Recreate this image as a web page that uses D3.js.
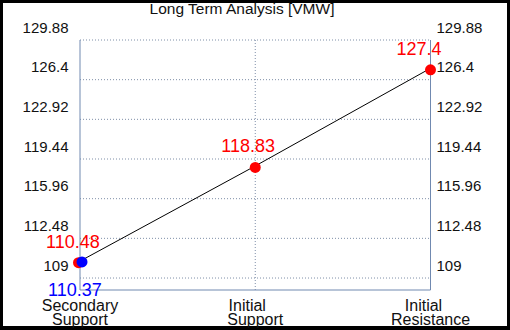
<!DOCTYPE html>
<html><head><meta charset="utf-8">
<script src="https://cdn.jsdelivr.net/npm/d3@7"></script>
<style>html,body{margin:0;padding:0;background:#000;}svg{display:block;}</style>
</head><body>
<script>
const title = "Long Term Analysis [VMW]";
const categories = ["Secondary\nSupport", "Initial\nSupport", "Initial\nResistance"];
const redValues = [110.48, 118.83, 127.4];
const blueValues = [110.37];
const yTicks = [109, 112.48, 115.96, 119.44, 122.92, 126.4, 129.88];
const yMin = 107.95, yMax = 129.88;

(function () {
const W = 510, H = 330;
const svg = d3.select("body").append("svg").attr("width", W).attr("height", H);
svg.append("rect").attr("width", W).attr("height", H).attr("fill", "#000");
svg.append("rect").attr("x", 3).attr("y", 3).attr("width", 504).attr("height", 323).attr("fill", "#fff");

const pl = 80, pr = 430.5, pt = 40, pb = 290;
const x = d3.scalePoint().domain(d3.range(categories.length)).range([pl, pr]).padding(0);
const y = d3.scaleLinear().domain([yMin, yMax]).range([pb, pt]);
const font = "Arial, 'Liberation Sans', sans-serif";
const axisColor = "#7089b0";

svg.append("g").selectAll("line").data(yTicks).join("line")
  .attr("x1", pl).attr("x2", pr)
  .attr("y1", d => y(d)).attr("y2", d => y(d))
  .attr("stroke", "#7f8fa8").attr("stroke-dasharray", "1,2");
svg.append("g").selectAll("line").data(d3.range(1, categories.length - 1)).join("line")
  .attr("x1", d => x(d)).attr("x2", d => x(d))
  .attr("y1", pt).attr("y2", pb)
  .attr("stroke", "#7f8fa8").attr("stroke-dasharray", "1,2");

svg.append("line").attr("x1", pl).attr("x2", pl).attr("y1", pt).attr("y2", pb).attr("stroke", axisColor);
svg.append("line").attr("x1", pr).attr("x2", pr).attr("y1", pt).attr("y2", pb).attr("stroke", axisColor);
svg.append("line").attr("x1", pl).attr("x2", pr).attr("y1", pb).attr("y2", pb).attr("stroke", axisColor);

const fmt = d => String(d);
svg.append("g").selectAll("text").data(yTicks).join("text")
  .attr("x", pl - 11.5).attr("y", d => y(d) - 7.5)
  .attr("text-anchor", "end").attr("font-family", font).attr("font-size", 15).attr("fill", "#111")
  .text(fmt);
svg.append("g").selectAll("text").data(yTicks).join("text")
  .attr("x", pr + 6).attr("y", d => y(d) - 7.5)
  .attr("text-anchor", "start").attr("font-family", font).attr("font-size", 15).attr("fill", "#111")
  .text(fmt);

svg.append("text").attr("x", 242).attr("y", 13.5).attr("text-anchor", "middle")
  .attr("font-family", font).attr("font-size", 15.5).attr("fill", "#111").text(title);

const line1Shift = [0, -8, -7];
categories.forEach((c, i) => {
  const lines = c.split("\n");
  const t = svg.append("text").attr("text-anchor", "middle")
    .attr("font-family", font).attr("font-size", 16).attr("fill", "#111");
  lines.forEach((ln, j) => {
    t.append("tspan").attr("x", x(i) + (j === 0 ? line1Shift[i] : 0))
      .attr("y", 310.5 + j * 14.8).text(ln);
  });
});

const line = d3.line().x((d, i) => x(i)).y(d => y(d));
svg.append("path").datum(redValues).attr("d", line)
  .attr("fill", "none").attr("stroke", "#000").attr("stroke-width", 1);

svg.append("g").selectAll("circle").data(redValues).join("circle")
  .attr("cx", (d, i) => x(i) - (i === 0 ? 1.5 : 0)).attr("cy", d => y(d) + 1.5).attr("r", 5.5)
  .attr("fill", "#ff0000");
svg.append("g").selectAll("text").data(redValues).join("text")
  .attr("x", (d, i) => x(i) - 34).attr("y", d => y(d) - 13.5)
  .attr("font-family", font).attr("font-size", 18).attr("fill", "#ff0000")
  .text(d => String(d));

svg.append("g").selectAll("circle").data(blueValues).join("circle")
  .attr("cx", (d, i) => x(i) + 2).attr("cy", d => y(d) - 0.5).attr("r", 5.5)
  .attr("fill", "#0000ff");
svg.append("g").selectAll("text").data(blueValues).join("text")
  .attr("x", (d, i) => x(i) - 32).attr("y", d => y(d) + 34)
  .attr("font-family", font).attr("font-size", 18).attr("fill", "#0000ff")
  .text(d => String(d));
})();
</script>
</body></html>
